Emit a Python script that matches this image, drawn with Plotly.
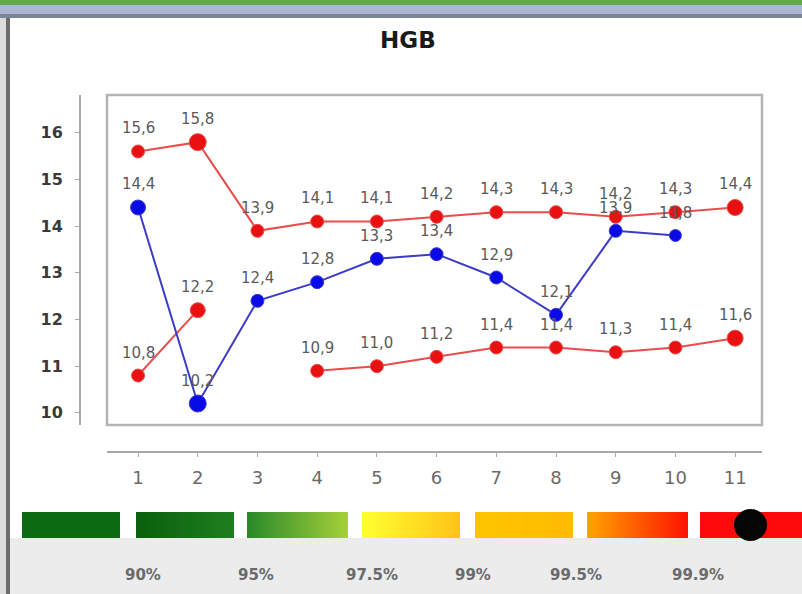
import plotly.graph_objects as go

# --- data -------------------------------------------------------------
visits = [1, 2, 3, 4, 5, 6, 7, 8, 9, 10, 11]
hgb_upper = [15.6, 15.8, 13.9, 14.1, 14.1, 14.2, 14.3, 14.3, 14.2, 14.3, 14.4]
hgb_lower = [10.8, 12.2, None, 10.9, 11.0, 11.2, 11.4, 11.4, 11.3, 11.4, 11.6]
hgb_patient = [14.4, 10.2, 12.4, 12.8, 13.3, 13.4, 12.9, 12.1, 13.9, 13.8, None]
y_ticks = [10, 11, 12, 13, 14, 15, 16]
percentiles = ["90%", "95%", "97.5%", "99%", "99.5%", "99.9%"]

# --- page geometry (pixels) -------------------------------------------
W, H = 802, 594
ML, MR, MT, MB = 80, 40, 95, 142
PW, PH = W - ML - MR, H - MT - MB


def px(x):
    return (x - ML) / PW


def py(y):
    return (H - MB - y) / PH


RED_M, RED_L = "#e81010", "#e84c4c"
BLUE_M, BLUE_L = "#0a0ae6", "#3c3cc8"
LABEL = "#5a5a5a"
FONT = "DejaVu Sans"


def fmt(v):
    return f"{v:.1f}".replace(".", ",")


fig = go.Figure()

series = [
    (hgb_upper, RED_M, RED_L, [13, 17, 13, 13, 13, 13, 13, 13, 13, 13, 16]),
    (hgb_lower, RED_M, RED_L, [13, 15, 13, 13, 13, 13, 13, 13, 13, 13, 16]),
    (hgb_patient, BLUE_M, BLUE_L, [15, 17, 13, 13, 13, 13, 13, 13, 13, 12, 12]),
]

annotations = []
for vals, mc, lc, sizes in series:
    fig.add_trace(go.Scatter(
        x=visits, y=vals, mode="lines+markers",
        line=dict(color=lc, width=2),
        marker=dict(color=mc, size=sizes, opacity=1),
        connectgaps=False, hoverinfo="skip", showlegend=False,
    ))
    for xv, yv in zip(visits, vals):
        if yv is None:
            continue
        annotations.append(dict(
            x=xv, y=yv, xref="x", yref="y", text=fmt(yv), showarrow=False,
            yshift=23, font=dict(family=FONT, size=15, color=LABEL),
        ))

# title
annotations.append(dict(
    x=px(408), y=py(40), xref="paper", yref="paper", text="<b>HGB</b>",
    xanchor="center", yanchor="middle", showarrow=False,
    font=dict(family=FONT, size=23, color="#1a1a1a"),
))

# percentile captions under the colour scale
pct_x = [143, 256, 372, 473, 576, 698]
for t, xc in zip(percentiles, pct_x):
    annotations.append(dict(
        x=px(xc), y=py(575), xref="paper", yref="paper", text=f"<b>{t}</b>",
        xanchor="center", yanchor="middle", showarrow=False,
        font=dict(family=FONT, size=15, color="#6a6a6a"),
    ))

shapes = []


def rect(x0, y0, x1, y1, color, layer="below"):
    shapes.append(dict(
        type="rect", xref="paper", yref="paper",
        x0=px(x0), x1=px(x1), y0=py(y1), y1=py(y0),
        fillcolor=color, line=dict(width=0), layer=layer,
    ))


def hex2rgb(h):
    h = h.lstrip("#")
    return tuple(int(h[i:i + 2], 16) for i in (0, 2, 4))


def gradient_bar(x0, x1, y0, y1, c0, c1, steps=36):
    a, b = hex2rgb(c0), hex2rgb(c1)
    w = (x1 - x0) / steps
    for i in range(steps):
        t = i / (steps - 1)
        c = tuple(round(a[k] + (b[k] - a[k]) * t) for k in range(3))
        right = min(x0 + (i + 1) * w + 1.5, x1)
        rect(x0 + i * w, y0, right, y1, "rgb(%d,%d,%d)" % c)


# window chrome: top bands, left frame, grey footer
rect(0, 0, W, 5, "#62a84c")
rect(0, 5, W, 14, "#aab6d2")
rect(0, 14, W, 18, "#7d8494")
rect(0, 18, 6, H, "#dcdcdc")
rect(6, 18, 10, H, "#6c6c6c")
rect(10, 538, W, H, "#ececec")

# colour scale
BY0, BY1 = 512, 538
gradient_bar(22, 120, BY0, BY1, "#0b6b10", "#0b6b10", steps=2)
gradient_bar(136, 234, BY0, BY1, "#0a600c", "#1f7f1f")
gradient_bar(247, 348, BY0, BY1, "#2a8a2a", "#a4d038")
gradient_bar(362, 460, BY0, BY1, "#ffff30", "#ffc418")
gradient_bar(475, 573, BY0, BY1, "#ffc400", "#ffbc00", steps=4)
gradient_bar(587, 688, BY0, BY1, "#ffa200", "#ff1400")
rect(700, BY0, W, BY1, "#ff0a0a")
shapes.append(dict(
    type="circle", xref="paper", yref="paper",
    x0=px(734), x1=px(767), y0=py(541), y1=py(509),
    fillcolor="#050505", line=dict(width=0), layer="above",
))

# plot frame
shapes.append(dict(
    type="rect", xref="x domain", yref="y domain", x0=0, x1=1, y0=0, y1=1,
    line=dict(color="#b4b4b4", width=2.5), fillcolor="rgba(0,0,0,0)",
    layer="below",
))

fig.update_layout(
    width=W, height=H,
    margin=dict(l=ML, r=MR, t=MT, b=MB, autoexpand=False),
    paper_bgcolor="white", plot_bgcolor="white",
    showlegend=False,
    annotations=annotations, shapes=shapes,
    xaxis=dict(
        domain=[px(107), 1], range=[0.48, 11.45],
        anchor="free", position=0,
        tickmode="array", tickvals=visits, ticktext=[str(v) for v in visits],
        showgrid=False, zeroline=False,
        showline=True, linecolor="#a8a8a8", linewidth=2,
        ticks="outside", ticklen=4, tickcolor="#a8a8a8",
        ticklabelstandoff=5,
        tickfont=dict(family=FONT, size=18, color="#6a6a6a"),
    ),
    yaxis=dict(
        domain=[py(425), 1], range=[9.74, 16.81],
        anchor="free", position=0,
        tickmode="array", tickvals=y_ticks,
        showgrid=False, zeroline=False,
        showline=True, linecolor="#a8a8a8", linewidth=2,
        ticks="outside", ticklen=4, tickcolor="#a8a8a8",
        ticklabelstandoff=9,
        tickfont=dict(family=FONT, size=16, color="#3a3a3a", weight="bold"),
    ),
)

fig.write_html("out.html")
